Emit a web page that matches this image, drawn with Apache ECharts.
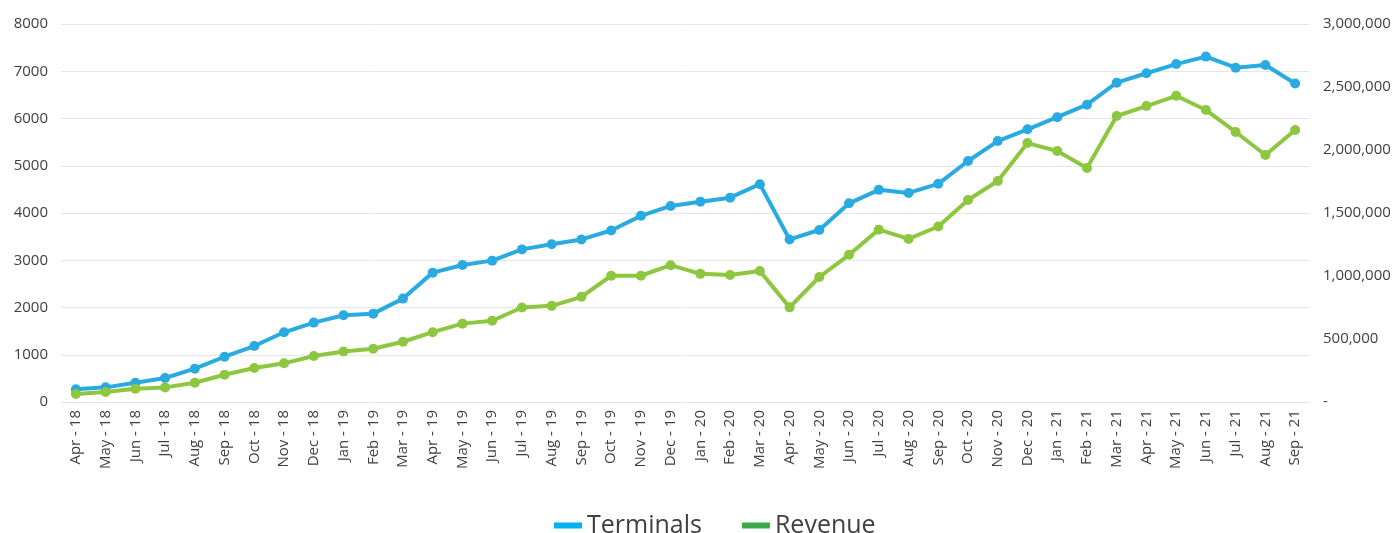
<!DOCTYPE html>
<html>
<head>
<meta charset="utf-8">
<script src="https://cdn.jsdelivr.net/npm/echarts@6/dist/echarts.min.js"></script>
<style>
  html, body { margin: 0; padding: 0; background: #fff; }
  #chart { width: 1400px; height: 533px; }
</style>
</head>
<body>
<div id="chart"></div>
<script>
const months = [
  'Apr - 18', 'May - 18', 'Jun - 18', 'Jul - 18', 'Aug - 18', 'Sep - 18', 'Oct - 18', 'Nov - 18', 'Dec - 18',
  'Jan - 19', 'Feb - 19', 'Mar - 19', 'Apr - 19', 'May - 19', 'Jun - 19', 'Jul - 19', 'Aug - 19', 'Sep - 19',
  'Oct - 19', 'Nov - 19', 'Dec - 19', 'Jan - 20', 'Feb - 20', 'Mar - 20', 'Apr - 20', 'May - 20', 'Jun - 20',
  'Jul - 20', 'Aug - 20', 'Sep - 20', 'Oct - 20', 'Nov - 20', 'Dec - 20', 'Jan - 21', 'Feb - 21', 'Mar - 21',
  'Apr - 21', 'May - 21', 'Jun - 21', 'Jul - 21', 'Aug - 21', 'Sep - 21'
];

const terminals = [
  268, 310, 408, 508, 705, 958, 1185, 1475, 1680,
  1835, 1870, 2188, 2738, 2900, 2992, 3230, 3340, 3440,
  3630, 3940, 4150, 4240, 4325, 4610, 3440, 3640, 4205,
  4490, 4425, 4618, 5100, 5522, 5772, 6028, 6292, 6758,
  6958, 7152, 7310, 7075, 7132, 6740
];

const revenue = [
  64000, 79000, 106000, 116000, 153000, 216000, 270000, 307000, 365000,
  401000, 423000, 478000, 554000, 622000, 645000, 750000, 763000, 835000,
  1002000, 1002000, 1086000, 1017000, 1008000, 1040000, 751000, 992000, 1168000,
  1368000, 1294000, 1393000, 1603000, 1754000, 2055000, 1992000, 1857000, 2270000,
  2349000, 2430000, 2317000, 2143000, 1960000, 2159000
];

const chart = echarts.init(document.getElementById('chart'));
const font = '"Open Sans", sans-serif';
const textColor = '#404040';

const option = {
  backgroundColor: '#fff',
  textStyle: { fontFamily: font },
  animation: false,
  legend: {
    left: 549,
    top: 508,
    icon: 'rect',
    itemWidth: 28,
    itemHeight: 6,
    itemGap: 40,
    textStyle: { fontSize: 25, color: textColor, fontFamily: font },
    data: [
      { name: 'Terminals', itemStyle: { color: '#00b0f0' } },
      { name: 'Revenue', itemStyle: { color: '#3aaa47' } }
    ]
  },
  grid: { left: 61, right: 90, top: 24, bottom: 131 },
  xAxis: {
    type: 'category',
    data: months,
    axisLine: { show: false },
    axisTick: { show: false },
    axisLabel: { rotate: 90, fontSize: 15, color: textColor, margin: 8, interval: 0 }
  },
  yAxis: [
    {
      type: 'value',
      min: 0,
      max: 8000,
      interval: 1000,
      axisLabel: { fontSize: 15, color: textColor, margin: 13, formatter: v => String(v) },
      splitLine: { lineStyle: { color: '#e6e6e6', width: 1 } }
    },
    {
      type: 'value',
      min: 0,
      max: 3000000,
      interval: 500000,
      position: 'right',
      splitLine: { show: false },
      axisLabel: {
        fontSize: 15,
        color: textColor,
        margin: 13,
        formatter: v => v === 0 ? '-' : v.toLocaleString('en-US')
      }
    }
  ],
  series: [
    {
      name: 'Terminals',
      type: 'line',
      data: terminals,
      yAxisIndex: 0,
      symbol: 'circle',
      symbolSize: 10,
      lineStyle: { width: 4, color: '#29abe2' },
      itemStyle: { color: '#29abe2' }
    },
    {
      name: 'Revenue',
      type: 'line',
      data: revenue,
      yAxisIndex: 1,
      symbol: 'circle',
      symbolSize: 10,
      lineStyle: { width: 4, color: '#8dc63f' },
      itemStyle: { color: '#8dc63f' }
    }
  ]
};

chart.setOption(option);
</script>
</body>
</html>
